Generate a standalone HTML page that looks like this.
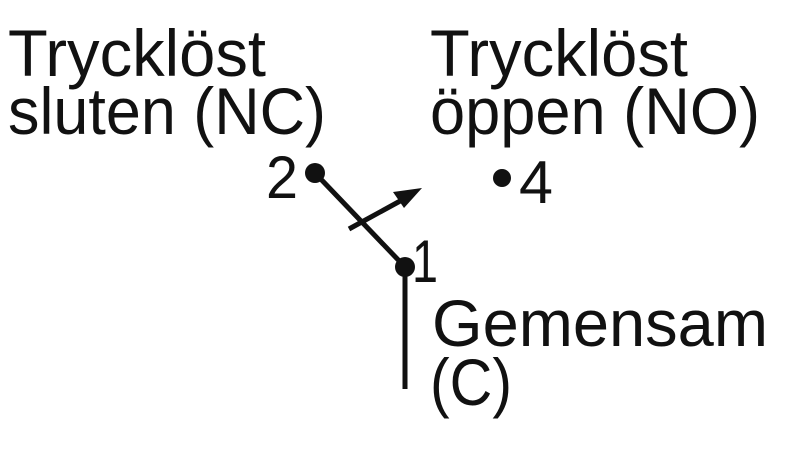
<!DOCTYPE html>
<html><head><style>html,body{margin:0;padding:0;background:#fff;}</style></head>
<body>
<svg width="800" height="455" xmlns="http://www.w3.org/2000/svg" style="display:block">
<g font-family="Liberation Sans, sans-serif" fill="#111" font-size="66">
<text x="8" y="76" textLength="258" lengthAdjust="spacingAndGlyphs">Trycklöst</text>
<text x="8" y="134" textLength="318" lengthAdjust="spacingAndGlyphs">sluten (NC)</text>
<text x="430" y="76" textLength="258" lengthAdjust="spacingAndGlyphs">Trycklöst</text>
<text x="430" y="134" textLength="330" lengthAdjust="spacingAndGlyphs">öppen (NO)</text>
<text x="432" y="346" textLength="336" lengthAdjust="spacingAndGlyphs">Gemensam</text>
<text x="430" y="405" textLength="82" lengthAdjust="spacingAndGlyphs">(C)</text>
<text x="266" y="198" font-size="60" textLength="32" lengthAdjust="spacingAndGlyphs">2</text>
<text x="519" y="203" font-size="60" textLength="34" lengthAdjust="spacingAndGlyphs">4</text>
<text x="412" y="282" font-size="60" textLength="26" lengthAdjust="spacingAndGlyphs">1</text>
</g>
<g stroke="#111" stroke-width="5" fill="none" stroke-linecap="butt">
<line x1="315" y1="173" x2="405" y2="267"/>
<line x1="405" y1="267" x2="405" y2="389"/>
<line x1="349" y1="229" x2="402" y2="200"/>
</g>
<polygon points="422,188 393,192 404,208" fill="#111"/>
<circle cx="315" cy="173" r="10" fill="#111"/>
<circle cx="405" cy="267" r="10" fill="#111"/>
<circle cx="502" cy="178" r="9" fill="#111"/>
</svg>
</body></html>
